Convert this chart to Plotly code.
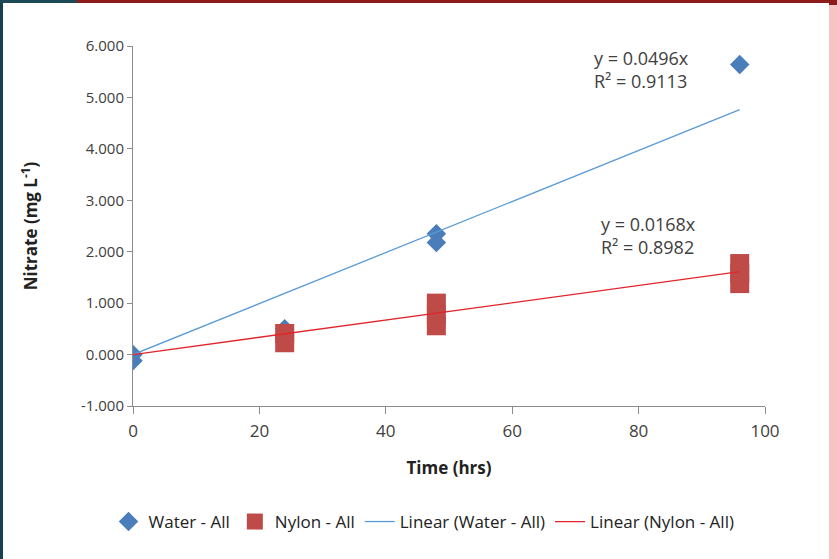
import plotly.graph_objects as go

# ---- data ----
water_time = [0, 0, 24, 48, 48, 96]
water_nitrate = [0.0, -0.12, 0.50, 2.35, 2.18, 5.64]

nylon_time = [24, 24, 48, 48, 48, 96, 96, 96]
nylon_nitrate = [0.23, 0.41, 0.56, 0.78, 1.00, 1.38, 1.58, 1.77]

trend_names = ["Linear (Water - All)", "Linear (Nylon - All)"]
trend_slopes = [0.0496, 0.0168]
trend_r2 = [0.9113, 0.8982]
trend_x = [0, 96]

x_ticks = [0, 20, 40, 60, 80, 100]
y_ticks = [-1, 0, 1, 2, 3, 4, 5, 6]
y_tick_labels = [f"{v:.3f}" for v in y_ticks]

FIG_W, FIG_H = 837, 559
ML, MR, MT, MB = 133, 72, 46, 153
PW, PH = FIG_W - ML - MR, FIG_H - MT - MB

def px_x(px):
    return (px - ML) / PW

def px_y(py):
    return (FIG_H - MB - py) / PH

FONT = "Open Sans, DejaVu Sans, sans-serif"
TXT = "#404040"

fig = go.Figure()
fig.add_trace(go.Scatter(
    x=water_time, y=water_nitrate, mode="markers", name="Water - All",
    marker=dict(symbol="diamond", size=15, color="#4A7EBB", line=dict(width=0)),
))
fig.add_trace(go.Scatter(
    x=nylon_time, y=nylon_nitrate, mode="markers", name="Nylon - All",
    marker=dict(symbol="square", size=19, color="#BE4B48", line=dict(width=0)),
))
line_colors = ["#5B9BD5", "#E0262C"]
for name, s, c in zip(trend_names, trend_slopes, line_colors):
    fig.add_trace(go.Scatter(
        x=trend_x, y=[s * t for t in trend_x], mode="lines", name=name,
        line=dict(color=c, width=1.3),
    ))

# equation labels
ann_pos = [(72.6, 5.55), (73.7, 2.32)]
for (ax, ay), s, r2 in zip(ann_pos, trend_slopes, trend_r2):
    fig.add_annotation(
        x=ax, y=ay, xref="x", yref="y", xanchor="left", yanchor="middle",
        align="left", showarrow=False,
        text=f"y = {s:.4f}x<br>R² = {r2:.4f}",
        font=dict(family=FONT, size=18, color=TXT),
    )

# frame decorations of the slide
shapes = [
    dict(type="rect", x0=px_x(0), x1=px_x(3), y0=px_y(FIG_H), y1=px_y(0),
         fillcolor="#17404F", line=dict(width=0)),
    dict(type="rect", x0=px_x(0), x1=px_x(77), y0=px_y(3), y1=px_y(0),
         fillcolor="#1E4A58", line=dict(width=0)),
    dict(type="rect", x0=px_x(77), x1=px_x(FIG_W), y0=px_y(3), y1=px_y(0),
         fillcolor="#8E1B1B", line=dict(width=0)),
    dict(type="rect", x0=px_x(829), x1=px_x(FIG_W), y0=px_y(FIG_H), y1=px_y(3),
         fillcolor="#F7C3C3", line=dict(width=0)),
    dict(type="rect", x0=px_x(829), x1=px_x(FIG_W), y0=px_y(5), y1=px_y(0),
         fillcolor="#8E1B1B", line=dict(width=0)),
]
for s in shapes:
    s.update(xref="paper", yref="paper", layer="above")
fig.update_layout(shapes=shapes)

axis_common = dict(
    showgrid=False, zeroline=False, showline=True, linecolor="#8C8C8C",
    linewidth=1, ticks="outside", tickcolor="#8C8C8C", tickwidth=1,
)
fig.update_xaxes(
    range=[0, 100], tickvals=x_ticks, ticklen=7, ticklabelstandoff=3,
    tickfont=dict(family=FONT, size=17, color=TXT),
    title=dict(text="<b>Time (hrs)</b>", standoff=20,
               font=dict(family=FONT, size=17, color="#222")),
    **axis_common,
)
fig.update_yaxes(
    range=[-1, 6], tickvals=y_ticks, ticktext=y_tick_labels, ticklen=5,
    tickfont=dict(family=FONT, size=15, color=TXT),
    title=dict(text="<b>Nitrate (mg L<sup>-1</sup>)</b>", standoff=38,
               font=dict(family=FONT, size=17, color="#222")),
    **axis_common,
)

fig.update_layout(
    width=FIG_W, height=FIG_H,
    margin=dict(l=ML, r=MR, t=MT, b=MB, pad=0, autoexpand=False),
    paper_bgcolor="white", plot_bgcolor="white",
    showlegend=True,
    legend=dict(
        orientation="h", xref="container", yref="container",
        x=424 / FIG_W, xanchor="center",
        y=1 - 522 / FIG_H, yanchor="middle",
        font=dict(family=FONT, size=17, color="#222"),
        itemwidth=30, tracegroupgap=0, bgcolor="rgba(0,0,0,0)",
    ),
)

fig.write_html("out.html")
